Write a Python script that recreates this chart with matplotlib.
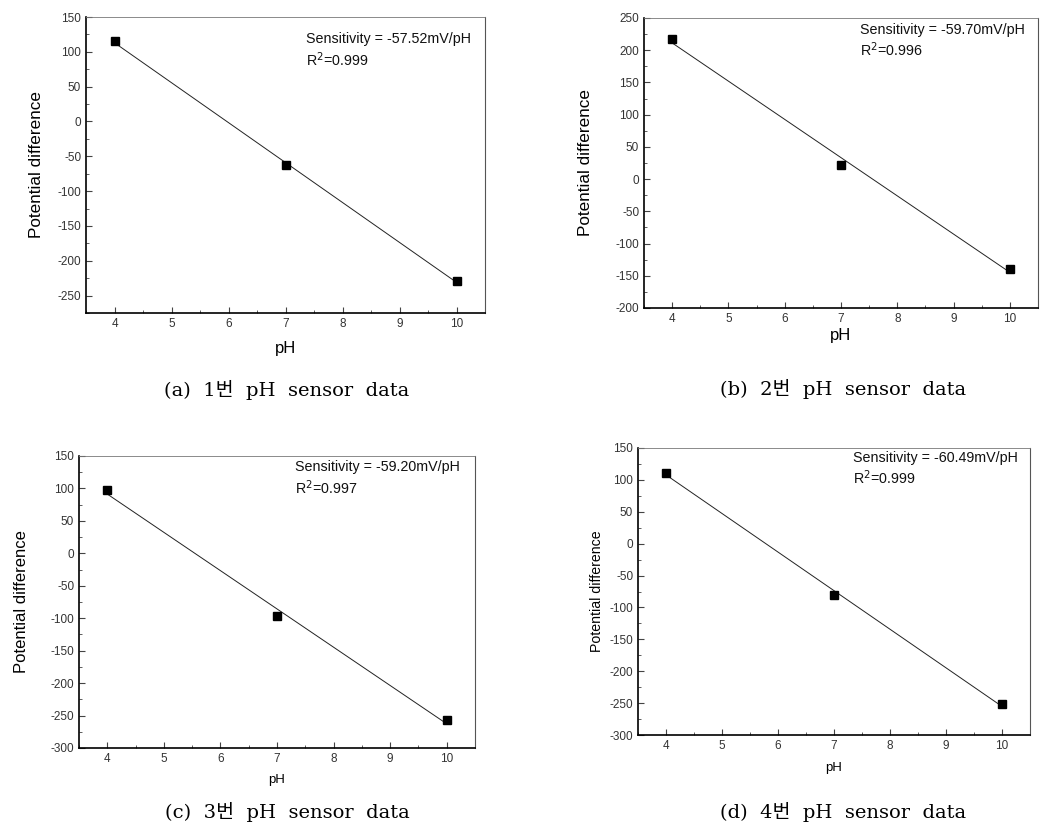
import matplotlib
matplotlib.use("Agg")
import matplotlib.pyplot as plt
from matplotlib.ticker import MultipleLocator
import numpy as np

plt.rcParams["axes.unicode_minus"] = False

ph = [4, 7, 10]

potential_a = [115, -63, -229]
potential_b = [217, 22, -139]
potential_c = [97, -97, -257]
potential_d = [111, -80, -252]

sensitivity_text = ["-57.52", "-59.70", "-59.20", "-60.49"]
r2_text = ["0.999", "0.996", "0.997", "0.999"]
captions = [
    "(a)  1번  pH  sensor  data",
    "(b)  2번  pH  sensor  data",
    "(c)  3번  pH  sensor  data",
    "(d)  4번  pH  sensor  data",
]
y_limits = [(-275, 150), (-200, 250), (-300, 150), (-300, 150)]

W, H = 1051, 834
# axes boxes in pixels: left, top, right, bottom
boxes = [(86, 17, 485, 313), (644, 18, 1038, 308), (79, 456, 475, 748), (638, 448, 1030, 735)]
text_pos = [(0.551, 0.926, 0.855), (0.548, 0.959, 0.89), (0.545, 0.962, 0.89), (0.548, 0.965, 0.895)]
caption_pos = [(287, 390), (843, 389), (287, 812), (843, 812)]
xlabel_size = [12, 12, 9.5, 9.5]
ylabel_size = [12.3, 12.3, 12, 10.2]
ylabel_x = [37, 586, 22, 597]
xlabel_y = [348, 336, 780, 768]

fig = plt.figure(figsize=(W / 100, H / 100), dpi=100)
fig.patch.set_facecolor("white")

series = [potential_a, potential_b, potential_c, potential_d]
for i, vals in enumerate(series):
    l, t, r, b = boxes[i]
    ax = fig.add_axes([l / W, 1 - b / H, (r - l) / W, (b - t) / H])
    ax.set_xlim(3.5, 10.5)
    ax.set_ylim(*y_limits[i])

    slope, intercept = np.polyfit(ph, vals, 1)
    fit_x = np.array([ph[0], ph[-1]])
    ax.plot(fit_x, slope * fit_x + intercept, color="#222222", lw=0.7)
    ax.plot(ph, vals, linestyle="none", marker="s", markersize=5.6, color="black")

    ax.xaxis.set_major_locator(MultipleLocator(1))
    ax.xaxis.set_minor_locator(MultipleLocator(0.5))
    ax.yaxis.set_major_locator(MultipleLocator(50))
    ax.yaxis.set_minor_locator(MultipleLocator(25))
    ax.tick_params(which="both", direction="in", top=False, right=False,
                   labelsize=8.5, labelcolor="#333333", color="#444444")
    ax.tick_params(which="major", length=4, width=0.8)
    ax.tick_params(which="minor", length=2.5, width=0.6)
    for lab in ax.get_xticklabels() + ax.get_yticklabels():
        lab.set_family("Liberation Sans")
    ax.spines["left"].set_linewidth(1.2)
    ax.spines["bottom"].set_linewidth(1.2)
    ax.spines["top"].set_linewidth(0.6)
    ax.spines["right"].set_linewidth(0.8)
    ax.spines["top"].set_color("#777777")
    ax.spines["right"].set_color("#555555")

    tx, ty1, ty2 = text_pos[i]
    ax.text(tx, ty1, f"Sensitivity = {sensitivity_text[i]}mV/pH", transform=ax.transAxes,
            fontsize=10.3, family="Liberation Sans", va="center", ha="left", color="#111111")
    ax.text(tx, ty2, f"R$^2$={r2_text[i]}", transform=ax.transAxes,
            fontsize=10.3, family="Liberation Sans", va="center", ha="left", color="#111111")

    fig.text((l + r) / 2 / W, 1 - xlabel_y[i] / H, "pH", ha="center", va="center",
             fontsize=xlabel_size[i], family="Liberation Sans")
    fig.text(ylabel_x[i] / W, 1 - (t + b) / 2 / H, "Potential difference", rotation=90,
             ha="center", va="center", fontsize=ylabel_size[i], family="Liberation Sans")

    capx, capy = caption_pos[i]
    fig.text(capx / W, 1 - capy / H, captions[i], ha="center", va="center", fontsize=14,
             family=["DejaVu Serif", "Noto Sans CJK KR"])

fig.savefig("out.png", dpi=100)
